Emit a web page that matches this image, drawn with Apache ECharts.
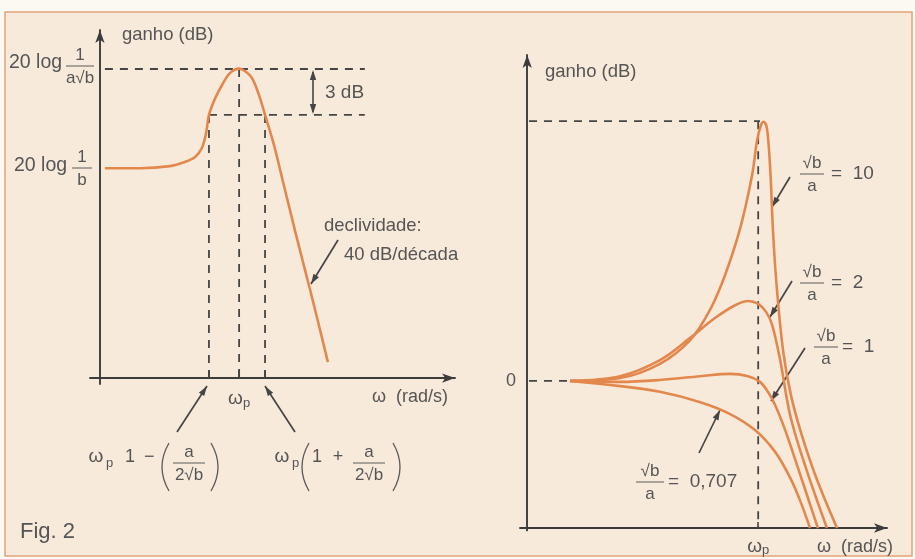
<!DOCTYPE html>
<html>
<head>
<meta charset="utf-8">
<script src="https://cdn.jsdelivr.net/npm/echarts@6/dist/echarts.min.js"></script>
<style>
  html, body { margin: 0; padding: 0; background: #fcf8f2; }
  #chart { width: 915px; height: 559px; }
</style>
</head>
<body>
<div id="chart"></div>
<script>
// left panel: band-pass response (units 0..100 on both axes)
const leftCurve = [
  [1.4, 60.3], [11.3, 60.3], [19.7, 60.9], [23.9, 62.1], [26.8, 63.5],
  [28.7, 66.1], [29.9, 70.4], [30.7, 75.6], [32.5, 80.5], [34.4, 84.2],
  [36.6, 87.6], [39.2, 88.9], [40.8, 88.2], [42.8, 86.2], [44.8, 81.3],
  [46.5, 75.6], [49.0, 67.0], [51.3, 57.5], [54.9, 42.5], [59.2, 25.3],
  [62.0, 13.8], [64.2, 4.6]
]
const leftPeak = 88.8
const left3dB = 75.6
const leftWLow = 30.7
const leftWp = 39.2
const leftWHigh = 46.5
const leftDashEnd = 74.6

// right panel: one curve per sqrt(b)/a
const ratioLabels = ['10', '2', '1', '0,707']
const curve10 = [
  [11.9, 31.1], [25.8, 31.7], [36.9, 34.7], [45.3, 39.7], [50.8, 46.1],
  [55.0, 53.5], [59.2, 63.4], [62.5, 74.6], [63.9, 82.0], [65.0, 85.2],
  [65.7, 85.9], [66.5, 85.0], [67.1, 81.0], [67.7, 73.6], [68.3, 63.0],
  [69.2, 52.4], [71.1, 37.6], [73.3, 28.1], [76.3, 19.7], [80.5, 10.3], [86.1, 0]
]
const curve2 = [
  [11.9, 31.1], [25.8, 32.1], [36.9, 35.5], [45.3, 40.2], [52.2, 44.4],
  [57.8, 47.1], [61.4, 48.0], [64.2, 47.4], [66.4, 45.7], [68.1, 42.9],
  [70.3, 35.5], [73.1, 23.8], [77.2, 13.3], [83.3, 0]
]
const curve1 = [
  [11.9, 31.1], [25.8, 30.9], [36.9, 31.3], [48.1, 32.1], [56.4, 32.6],
  [61.4, 32.1], [64.7, 30.9], [66.9, 28.8], [68.9, 26.0], [71.7, 20.7],
  [75.0, 13.3], [80.8, 0]
]
const curve0707 = [
  [11.9, 31.1], [25.8, 30.0], [36.9, 28.8], [48.1, 26.6], [56.4, 24.1],
  [63.3, 20.7], [68.9, 16.1], [73.1, 10.6], [75.8, 5.9], [78.6, 0]
]
const rightZero = 31.1
const rightPeak = 86.0
const rightWp = 64.2
const rightStart = 11.9

const ink = '#454545'
const textInk = '#555555'
const orange = '#e3884d'
const FONT = '"Liberation Sans", Arial, sans-serif'

function txt(x, y, s, size, align) {
  return {
    type: 'text', x: x, y: y, silent: true,
    style: { text: s, font: (size || 18) + 'px ' + FONT, fill: textInk, align: align || 'left', verticalAlign: 'middle' }
  }
}
function seg(x1, y1, x2, y2, w) {
  return { type: 'line', silent: true, shape: { x1, y1, x2, y2 }, style: { stroke: ink, lineWidth: w || 1.7 } }
}
function head(x1, y1, x2, y2) {
  const dx = x2 - x1, dy = y2 - y1, l = Math.sqrt(dx * dx + dy * dy)
  const ux = dx / l, uy = dy / l, L = 10, W = 3.2
  return {
    type: 'polygon', silent: true,
    shape: { points: [[x2, y2], [x2 - ux * L - uy * W, y2 - uy * L + ux * W], [x2 - ux * L + uy * W, y2 - uy * L - ux * W]] },
    style: { fill: ink }
  }
}
function arrow(x1, y1, x2, y2) {
  return [seg(x1, y1, x2, y2), head(x1, y1, x2, y2)]
}
function frac(cx, y, num, den, w) {
  return [
    txt(cx, y - 11, num, 17, 'center'),
    { type: 'line', silent: true, shape: { x1: cx - w / 2, y1: y, x2: cx + w / 2, y2: y }, style: { stroke: '#5a5a5a', lineWidth: 1 } },
    txt(cx, y + 12, den, 17, 'center')
  ]
}
function omegaP(x, y) {
  return [txt(x, y, 'ω', 19, 'center'), txt(x + 10, y + 6, 'p', 13, 'left')]
}
function paren(x, top, bottom, dir) {
  return {
    type: 'bezierCurve', silent: true,
    shape: { x1: x, y1: top, x2: x, y2: bottom, cpx1: x - dir * 14, cpy1: (top + bottom) / 2 },
    style: { stroke: '#5a5a5a', lineWidth: 1.3, fill: null }
  }
}

const graphics = [
  { type: 'rect', z: -100, silent: true, shape: { x: 5, y: 12, width: 907, height: 544 },
    style: { fill: '#f8eadb', stroke: '#e2a47a', lineWidth: 1.5 } },
  // left panel
  txt(122, 35, 'ganho (dB)', 18.5),
  txt(9, 63, '20 log', 19.5),
  ...frac(80, 66, '1', 'a√b', 28),
  txt(14, 166, '20 log', 19.5),
  ...frac(82, 168, '1', 'b', 20),
  seg(313, 72, 313, 112, 1.6), head(313, 90, 313, 70), head(313, 92, 313, 114),
  txt(325, 93, '3 dB', 19),
  txt(324, 226, 'declividade:', 18.5),
  txt(344, 255, '40 dB/década', 18.5),
  ...arrow(338, 240, 311, 284),
  txt(372, 397, 'ω  (rad/s)', 18),
  ...arrow(177, 432, 207, 386),
  ...arrow(295, 432, 265, 386),
  ...omegaP(96, 457),
  txt(125, 457, '1'),
  txt(144, 457, '−'),
  paren(169, 443, 491, 1),
  ...frac(189, 463, 'a', '2√b', 32),
  paren(211, 443, 491, -1),
  ...omegaP(282, 457),
  paren(309, 443, 491, 1),
  txt(312, 457, '1'),
  txt(338, 457, '+', 18, 'center'),
  ...frac(369, 463, 'a', '2√b', 32),
  paren(393, 443, 491, -1),
  txt(20, 532, 'Fig. 2', 22),
  // right panel
  txt(545, 72, 'ganho (dB)', 18.5),
  ...frac(812, 174, '√b', 'a', 24),
  txt(831, 174, '=  10', 19),
  ...arrow(790, 177, 772, 207),
  ...frac(812, 283, '√b', 'a', 24),
  txt(831, 283, '=  2', 19),
  ...arrow(792, 281, 770, 317),
  ...frac(826, 347, '√b', 'a', 24),
  txt(842, 347, '=  1', 19),
  ...arrow(805, 348, 771, 401),
  ...frac(650, 482, '√b', 'a', 28),
  txt(668, 482, '=  0,707', 19),
  ...arrow(699, 453, 720, 410),
  txt(817, 547, 'ω  (rad/s)', 18)
]

function curve(data, g, width) {
  return {
    type: 'line', xAxisIndex: g, yAxisIndex: g, data: data, symbol: 'none',
    smooth: 0.35, silent: true, z: 3,
    lineStyle: { color: orange, width: width || 2.6 }
  }
}
function dashed(data, g) {
  return {
    type: 'line', xAxisIndex: g, yAxisIndex: g, data: data, symbol: 'none', silent: true, z: 2,
    lineStyle: { color: ink, width: 1.8, type: [8, 7] }
  }
}

const axisLine = { onZero: true, symbol: ['none', 'arrow'], symbolSize: [7, 13], lineStyle: { color: '#3c3c3c', width: 1.9 } }
const omegaRich = {
  w: { fontSize: 19, fontFamily: FONT, color: textInk },
  s: { fontSize: 13, fontFamily: FONT, color: textInk, padding: [9, 0, 0, 0] }
}

const option = {
  backgroundColor: '#fcf8f2',
  animation: false,
  grid: [
    { left: 90, top: 30, width: 365, height: 354 },
    { left: 520, top: 55, width: 367, height: 475.4 }
  ],
  xAxis: [
    { type: 'value', gridIndex: 0, min: -2.8, max: 100, splitLine: { show: false }, axisLine: axisLine,
      axisTick: { show: true, inside: true, length: 8, customValues: [leftWLow, leftWp, leftWHigh], lineStyle: { color: ink, width: 1.6 } },
      axisLabel: { show: true, customValues: [leftWp], margin: 4, formatter: () => '{w|ω}{s|p}', rich: omegaRich } },
    { type: 'value', gridIndex: 1, min: -2, max: 100, splitLine: { show: false }, axisLine: axisLine,
      axisTick: { show: true, inside: true, length: 6, customValues: [rightWp], lineStyle: { color: ink, width: 1.6 } },
      axisLabel: { show: true, customValues: [rightWp], margin: 5, formatter: () => '{w|ω}{s|p}', rich: omegaRich } }
  ],
  yAxis: [
    { type: 'value', gridIndex: 0, min: -1.7, max: 100, splitLine: { show: false }, axisLine: axisLine,
      axisTick: { show: false }, axisLabel: { show: false } },
    { type: 'value', gridIndex: 1, min: -0.5, max: 100, splitLine: { show: false }, axisLine: axisLine,
      axisTick: { show: false },
      axisLabel: { show: true, customValues: [rightZero], margin: 4, formatter: () => '0', fontSize: 18, fontFamily: FONT, color: textInk } }
  ],
  graphic: { elements: graphics },
  series: [
    curve(leftCurve, 0),
    dashed([[1.4, leftPeak], [leftDashEnd, leftPeak]], 0),
    dashed([[leftWLow, left3dB], [leftDashEnd, left3dB]], 0),
    dashed([[leftWLow, left3dB], [leftWLow, 0]], 0),
    dashed([[leftWp, leftPeak], [leftWp, 0]], 0),
    dashed([[leftWHigh, left3dB], [leftWHigh, 0]], 0),
    dashed([[0.5, rightPeak], [rightWp + 0.5, rightPeak]], 1),
    dashed([[rightWp, rightPeak], [rightWp, 0]], 1),
    dashed([[0.5, rightZero], [rightStart, rightZero]], 1),
    curve(curve10, 1),
    curve(curve2, 1),
    curve(curve1, 1),
    curve(curve0707, 1)
  ]
}

const chart = echarts.init(document.getElementById('chart'))
chart.setOption(option)
</script>
</body>
</html>
